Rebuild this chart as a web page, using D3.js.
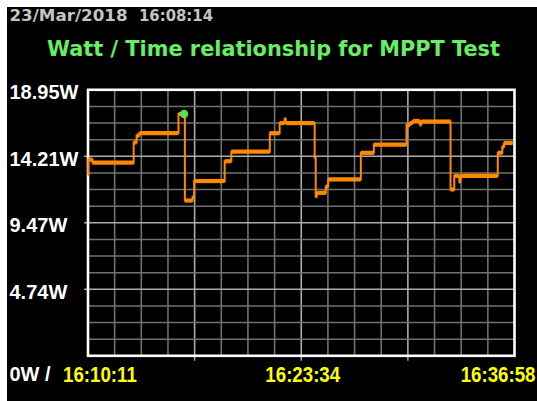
<!DOCTYPE html>
<html>
<head>
<meta charset="utf-8">
<script src="https://cdn.jsdelivr.net/npm/d3@7"></script>
<style>
  html, body { margin: 0; padding: 0; background: #fff; overflow: hidden; }
  svg { display: block; }
</style>
</head>
<body>
<svg id="chart" width="537" height="401"></svg>
<script>
// Logged MPPT power: seconds since the first sample (16:10:11) and watts at each step change
const sampleSeconds = [0, 1, 17, 172, 183, 194, 341, 365, 394, 400, 515, 540, 685, 722, 741, 745,
  854, 858, 862, 896, 905, 1028, 1077, 1200, 1213, 1224, 1250, 1256, 1366, 1380, 1399, 1403,
  1544, 1561, 1568, 1600];
const sampleWatts = [12.88, 13.98, 13.76, 15.20, 15.69, 15.87, 17.23, 11.06, 11.31, 12.45, 13.86, 14.54, 15.86, 16.58, 16.87, 16.58,
  14.13, 11.35, 11.61, 12.06, 12.57, 14.46, 15.05, 16.44, 16.58, 16.73, 16.48, 16.69, 11.85, 12.82, 12.40, 12.82,
  14.46, 14.90, 15.16, 15.16];

// Axis extents and labels
const spanSeconds = 1607;            // 16:10:11 → 16:36:58
const maxWatts = 18.95;
const wattTicks = [18.95, 14.2125, 9.475, 4.7375];
const wattLabels = ["18.95W", "14.21W", "9.47W", "4.74W"];
const timeTicks = [0, 803.5, 1607];
const timeLabels = ["16:10:11", "16:23:34", "16:36:58"];
const originLabel = "0W /";
const mppSeconds = 362;              // tracked maximum power point marker

const stampDate = "23/Mar/2018";
const stampTime = "16:08:14";
const title = "Watt / Time relationship for MPPT Test";

const svg = d3.select("#chart");
const W = 537, H = 401;
const plot = { left: 88, right: 514.5, top: 89.8, bottom: 355.8 };

// screen background
svg.append("rect").attr("x", 0).attr("y", 0).attr("width", W).attr("height", H).attr("fill", "#fff");
svg.append("rect").attr("x", 7).attr("y", 7).attr("width", W - 7).attr("height", H - 7).attr("fill", "#000");

const x = d3.scaleLinear().domain([0, spanSeconds]).range([plot.left, plot.right]);
const y = d3.scaleLinear().domain([0, maxWatts]).range([plot.bottom, plot.top]);

// grid: 16 x 16 cells, every fourth line brighter
const g = svg.append("g");
const cols = d3.range(1, 16).map(i => i * spanSeconds / 16);
const rows = d3.range(1, 16).map(i => i * maxWatts / 16);
g.selectAll("line.v").data(cols).join("line")
  .attr("x1", d => x(d)).attr("x2", d => x(d))
  .attr("y1", plot.top).attr("y2", plot.bottom)
  .attr("stroke", (d, i) => (i + 1) % 4 === 0 ? "#acacac" : "#707070")
  .attr("stroke-width", 1.6);
g.selectAll("line.h").data(rows).join("line")
  .attr("y1", d => y(d)).attr("y2", d => y(d))
  .attr("x1", plot.left).attr("x2", plot.right)
  .attr("stroke", (d, i) => (i + 1) % 4 === 0 ? "#acacac" : "#707070")
  .attr("stroke-width", 1.6);

// small tick marks outside the frame
g.selectAll("line.yt").data(wattTicks.slice(1)).join("line")
  .attr("x1", plot.left - 4).attr("x2", plot.left)
  .attr("y1", d => y(d)).attr("y2", d => y(d))
  .attr("stroke", "#acacac").attr("stroke-width", 1.4);
g.selectAll("line.xt").data([spanSeconds / 4, spanSeconds / 2, spanSeconds * 3 / 4]).join("line")
  .attr("x1", d => x(d)).attr("x2", d => x(d))
  .attr("y1", plot.bottom).attr("y2", plot.bottom + 5)
  .attr("stroke", "#acacac").attr("stroke-width", 1.4);

// plot frame
svg.append("rect")
  .attr("x", plot.left).attr("y", plot.top)
  .attr("width", plot.right - plot.left).attr("height", plot.bottom - plot.top)
  .attr("fill", "none").attr("stroke", "#fff").attr("stroke-width", 2.6);

// power trace: thin step path plus heavier horizontal runs
const pts = sampleSeconds.map((t, i) => [t, sampleWatts[i]]);
const step = d3.line().x(d => x(d[0])).y(d => y(d[1])).curve(d3.curveStepAfter);
svg.append("path").attr("d", step(pts))
  .attr("fill", "none").attr("stroke", "#ff8800").attr("stroke-width", 2);
const runs = d3.pairs(pts);
svg.append("g").selectAll("line").data(runs).join("line")
  .attr("x1", d => x(d[0][0])).attr("x2", d => x(d[1][0]))
  .attr("y1", d => y(d[0][1])).attr("y2", d => y(d[0][1]))
  .attr("stroke", "#ff8800").attr("stroke-width", 4.2);

// maximum power point marker
const mppIdx = d3.bisectRight(sampleSeconds, mppSeconds) - 1;
svg.append("circle")
  .attr("cx", x(mppSeconds)).attr("cy", y(sampleWatts[mppIdx]))
  .attr("r", 4.2).attr("fill", "#55e055");

// header texts
svg.append("text").attr("x", 9.5).attr("y", 20.8).text(stampDate)
  .attr("font-family", "DejaVu Sans").attr("font-weight", "bold").attr("font-size", 15)
  .attr("fill", "#c4c4c4").attr("textLength", 118).attr("lengthAdjust", "spacingAndGlyphs");
svg.append("text").attr("x", 139).attr("y", 20.8).text(stampTime)
  .attr("font-family", "DejaVu Sans").attr("font-weight", "bold").attr("font-size", 15)
  .attr("fill", "#c4c4c4").attr("textLength", 74).attr("lengthAdjust", "spacingAndGlyphs");
svg.append("text").attr("x", 47).attr("y", 56).text(title)
  .attr("font-family", "DejaVu Sans").attr("font-weight", "bold").attr("font-size", 21)
  .attr("fill", "#66ee66").attr("textLength", 453).attr("lengthAdjust", "spacingAndGlyphs");

// watt labels
svg.append("g").selectAll("text").data(wattTicks).join("text")
  .attr("x", 9.5).attr("y", d => y(d) + 9.3)
  .text((d, i) => wattLabels[i])
  .attr("font-family", "Liberation Sans").attr("font-weight", "bold").attr("font-size", 20)
  .attr("fill", "#fff");
svg.append("text").attr("x", 9.5).attr("y", 381.3).text(originLabel)
  .attr("font-family", "Liberation Sans").attr("font-weight", "bold").attr("font-size", 20)
  .attr("fill", "#fff");

// time labels, horizontally condensed
const anchors = ["start", "middle", "end"];
const offsets = [-25, 1.5, 0];
svg.append("g").selectAll("text").data(timeTicks).join("text")
  .attr("transform", (d, i) => `translate(${i === 2 ? W - 1.5 : x(d) + offsets[i]},381.5) scale(0.85,1)`)
  .attr("text-anchor", (d, i) => anchors[i])
  .text((d, i) => timeLabels[i])
  .attr("font-family", "Liberation Sans").attr("font-weight", "bold").attr("font-size", 22)
  .attr("fill", "#ffff00");
</script>
</body>
</html>
